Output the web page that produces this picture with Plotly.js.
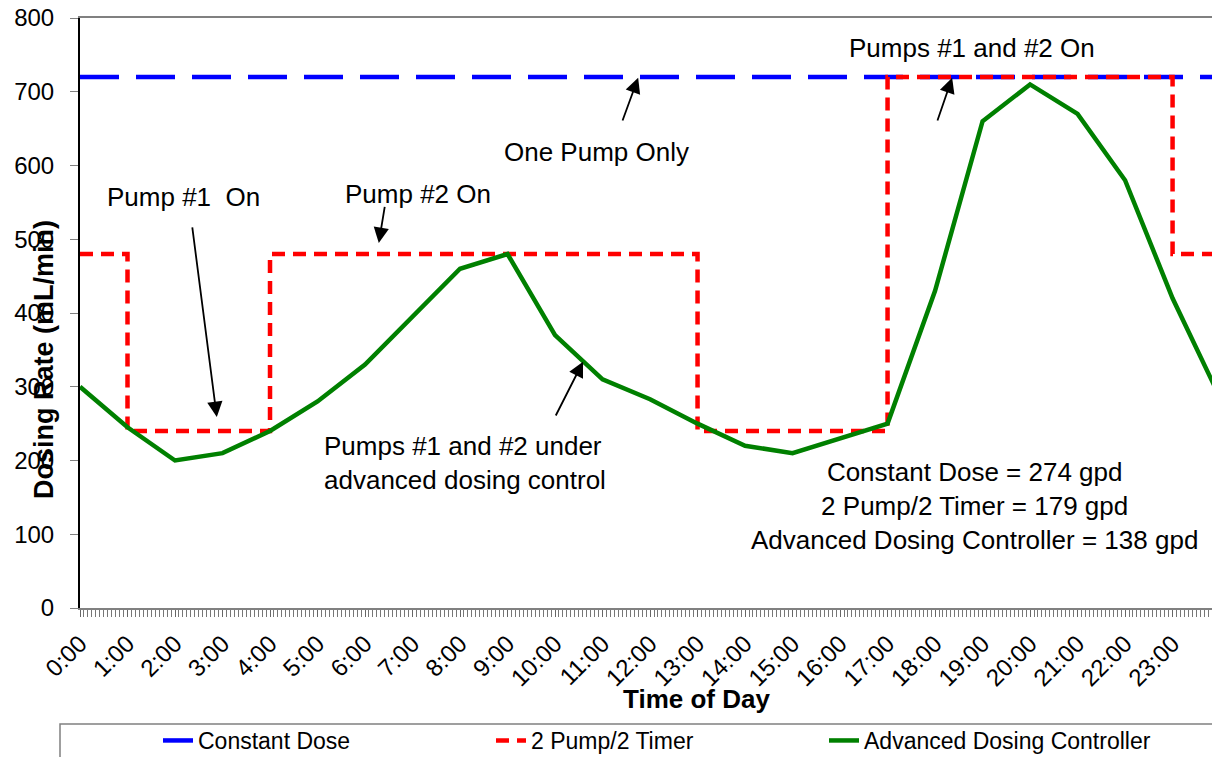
<!DOCTYPE html>
<html>
<head>
<meta charset="utf-8">
<script src="https://cdn.plot.ly/plotly-3.0.1.min.js"></script>
<style>html,body{margin:0;padding:0;background:#fff;}#chart{width:1212px;height:757px;}</style>
</head>
<body>
<div id="chart"></div>
<script>
// ---- data ----
const hours = [0,1,2,3,4,5,6,7,8,9,10,11,12,13,14,15,16,17,18,19,20,21,22,23,24];
const hourLabels = ['0:00','1:00','2:00','3:00','4:00','5:00','6:00','7:00','8:00','9:00','10:00','11:00',
  '12:00','13:00','14:00','15:00','16:00','17:00','18:00','19:00','20:00','21:00','22:00','23:00'];
const constantHours = [0, 24];
const constantRate = [720, 720];
const timerRate = [480,240,240,240,480,480,480,480,480,480,480,480,480,240,240,240,240,720,720,720,720,720,720,480,480];
const advancedRate = [300,245,200,210,240,280,330,395,460,480,370,310,283,250,220,210,230,250,430,660,710,670,580,420,285];
const seriesNames = ['Constant Dose', '2 Pump/2 Timer', 'Advanced Dosing Controller'];
const yTicks = [0,100,200,300,400,500,600,700,800];

const FONT = 'Liberation Sans, Arial, sans-serif';

const traces = [
  {x: constantHours, y: constantRate, name: seriesNames[0], mode: 'lines',
   line: {color: '#0000FF', width: 4.5, dash: '39px,17px'}},
  {x: hours, y: timerRate, name: seriesNames[1], mode: 'lines',
   line: {color: '#FF0000', width: 4.5, dash: '13px,8px', shape: 'hv'}},
  {x: hours, y: advancedRate, name: seriesNames[2], mode: 'lines',
   line: {color: '#008000', width: 4.5}}
];

function txt(text, x, y, opts) {
  return Object.assign({text: text, x: x, y: y, xref: 'x', yref: 'y', showarrow: false,
    xanchor: 'center', yanchor: 'middle',
    font: {family: FONT, size: 26, color: '#000'}}, opts || {});
}
function arrow(tx, ty, hx, hy) {
  return {text: '', x: hx, y: hy, ax: tx, ay: ty, xref: 'x', yref: 'y', axref: 'x', ayref: 'y',
    showarrow: true, arrowhead: 2, arrowsize: 1.7, arrowwidth: 1.8, arrowcolor: '#000', standoff: 0};
}

const annotations = [
  txt('Pump #1\u00a0 On', 2.17, 557),
  arrow(2.36, 518, 2.88, 259),
  txt('Pump #2 On', 7.12, 562),
  arrow(6.42, 546, 6.29, 495),
  txt('One Pump Only', 10.88, 618),
  arrow(11.41, 659, 11.75, 719),
  txt('Pumps #1 and #2 under<br>advanced dosing control', 5.09, 197, {xanchor: 'left', align: 'left'}),
  arrow(10.0, 259, 10.59, 334),
  txt('Pumps #1 and #2 On', 18.78, 759),
  arrow(18.04, 659, 18.36, 719),
  txt('Constant Dose = 274 gpd<br>2 Pump/2 Timer = 179 gpd<br>Advanced Dosing Controller = 138 gpd', 18.84, 138, {align: 'center'}),
  {text: '<b>Time of Day</b>', xref: 'paper', yref: 'paper', x: (696-80)/1132, y: (608-699)/590,
   xanchor: 'center', yanchor: 'middle',
   showarrow: false, font: {family: FONT, size: 26, color: '#000'}},
  {text: '<b>Dosing Rate (mL/min)</b>', xref: 'paper', yref: 'paper', x: (44-80)/1132, y: (608-360)/590,
   xanchor: 'center', yanchor: 'middle',
   textangle: -90, showarrow: false, font: {family: FONT, size: 27, color: '#000'}}
];

const layout = {
  width: 1212, height: 757,
  margin: {l: 80, r: 0, t: 18, b: 149, pad: 0, autoexpand: false},
  paper_bgcolor: '#fff', plot_bgcolor: '#fff',
  showlegend: true,
  legend: {orientation: 'h', x: (158-80)/1132, y: (608-719)/590, xanchor: 'left', yanchor: 'top',
    font: {family: FONT, size: 23, color: '#000'}, bgcolor: 'rgba(0,0,0,0)', borderwidth: 0,
    entrywidth: 288, entrywidthmode: 'pixels', itemwidth: 30, traceorder: 'normal'},
  xaxis: {
    range: [0, 23.83], tickmode: 'array', tickvals: hours.slice(0, 24), ticktext: hourLabels,
    tickangle: -45, tickfont: {family: FONT, size: 24, color: '#000'},
    ticks: 'outside', ticklen: 7, tickcolor: '#666', tickwidth: 1, ticklabelstandoff: 3,
    showgrid: false, zeroline: false, showline: true, linecolor: '#808080', linewidth: 2, mirror: true,
    minor: {tickmode: 'linear', tick0: 0, dtick: 1/12, ticks: 'outside', ticklen: 7, tickcolor: '#777', tickwidth: 1, showgrid: false}
  },
  yaxis: {
    range: [0, 800], tickmode: 'array', tickvals: yTicks, ticktext: yTicks.map(String),
    tickfont: {family: FONT, size: 24, color: '#000'},
    ticks: 'outside', ticklen: 8, tickcolor: '#808080', tickwidth: 1, ticklabelstandoff: 11,
    showgrid: false, zeroline: false, showline: true, linecolor: '#000', linewidth: 2
  },
  shapes: [
    {type: 'rect', xref: 'paper', yref: 'paper', x0: (60-80)/1132, x1: 1.02, y0: (608-724)/590, y1: (608-775)/590,
     line: {color: '#808080', width: 1.5}, fillcolor: 'rgba(0,0,0,0)', layer: 'below'}
  ],
  annotations: annotations
};

Plotly.newPlot('chart', traces, layout, {displayModeBar: false, staticPlot: true});
</script>
</body>
</html>
